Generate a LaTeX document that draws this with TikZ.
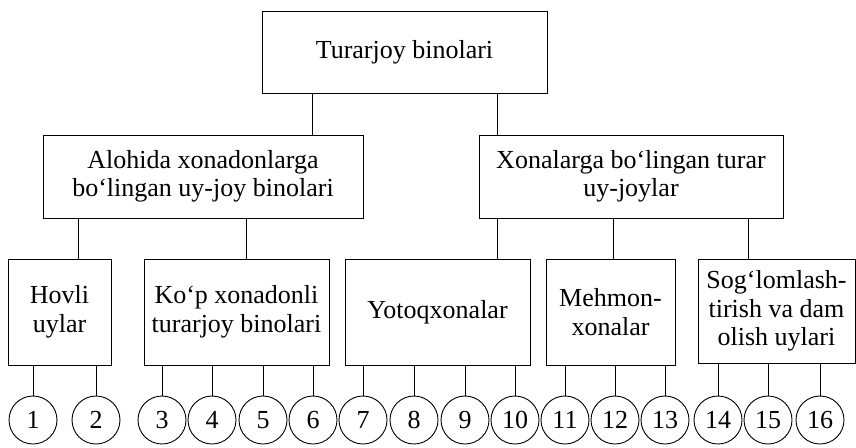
\documentclass[tikz,border=0pt]{standalone}
\usepackage{fontspec}
\setmainfont{Liberation Serif}
\begin{document}
\begin{tikzpicture}
  [x=1pt,y=-1pt,line width=0.9pt,every node/.style={draw,inner sep=0pt,align=center,font=\fontsize{26}{28.5}\selectfont}]
  \tikzstyle{num} = [circle,minimum size=48pt]
  \useasboundingbox (0,0) rectangle (856,447);
  \node[minimum width=285pt,minimum height=82pt] (n1) at (404.5,52) {Turarjoy binolari};
  \node[minimum width=320pt,minimum height=83pt] (n2) at (203,176.5) {Alohida xonadonlarga\\bo‘lingan uy-joy binolari};
  \node[minimum width=304pt,minimum height=83pt] (n3) at (631,176.5) {Xonalarga bo‘lingan turar\\uy-joylar};
  \node[minimum width=103pt,minimum height=106pt] (n4) at (59.5,312) {Hovli\\uylar};
  \node[minimum width=185pt,minimum height=106pt] (n5) at (236.5,312) {Ko‘p xonadonli\\turarjoy binolari};
  \node[minimum width=185pt,minimum height=106pt] (n6) at (437.5,312) {Yotoqxonalar};
  \node[minimum width=129pt,minimum height=106pt] (n7) at (610.5,312) {Mehmon-\\xonalar};
  \node[minimum width=157pt,minimum height=104pt] (n8) at (776.5,311) {Sog‘lomlash-\\tirish va dam\\olish uylari};

\foreach \i/\x in {1/33,2/96,3/162,4/212,5/263,6/313,7/363,8/414,9/465,10/515,11/565,12/615,13/665,14/718,15/768,16/820}
   \node[num] (c\i) at (\x,420) {\i};

\foreach \source/\dest/\x in {n1/n2/312,n1/n3/497,n2/n4/78,n2/n5/246,n3/n6/497,n3/n7/613,n3/n8/748}
   \draw (\source.south -| \x,0) -- (\dest.north -| \x,0);
\foreach \source/\dest in {n4/c1,n4/c2,n5/c3,n5/c4,n5/c5,n5/c6,n6/c7,n6/c8,n6/c9,n6/c10,n7/c11,n7/c12,n7/c13,n8/c14,n8/c15,n8/c16}
   \draw (\source.south -| \dest) -- (\dest);

  \end{tikzpicture}
\end{document}
